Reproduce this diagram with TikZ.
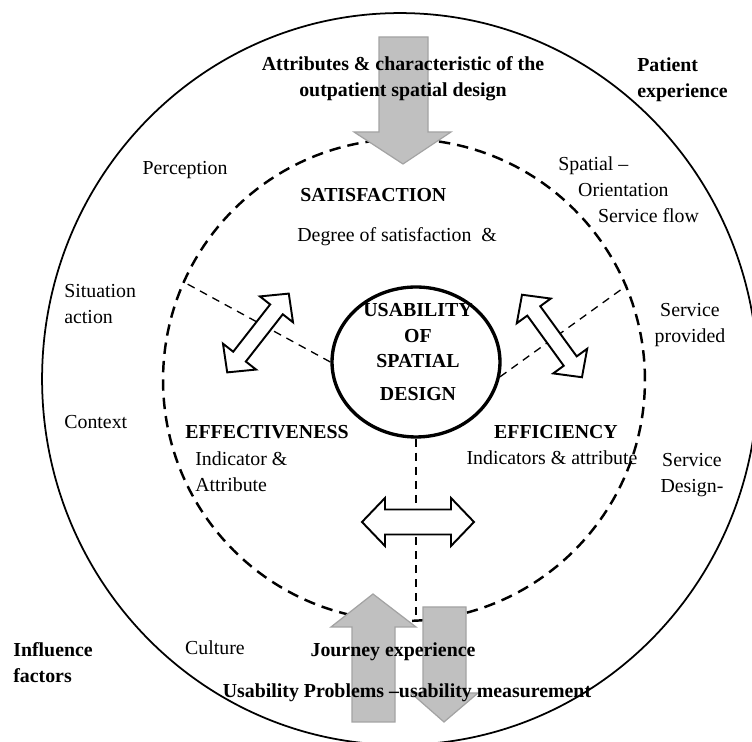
\documentclass[tikz,border=0pt]{standalone}
\usepackage{fontspec}
\setmainfont{Liberation Serif}
\usetikzlibrary{shapes.geometric}
\definecolor{arrowfill}{HTML}{C0C0C0}
\definecolor{arrowedge}{HTML}{A3A3A3}
\begin{document}
\begin{tikzpicture}[x=0.02cm,y=-0.02cm,
  lbl/.style={inner sep=0pt,font=\fontsize{11.3}{14.7}\selectfont},
  lblb/.style={inner sep=0pt,font=\fontsize{11.3}{14.7}\selectfont\bfseries},
  rim/.style={draw,ellipse,line width=1pt,minimum width=14.32cm,minimum height=14.64cm,inner sep=0pt},
  ring/.style={draw,circle,line width=1.4pt,dash pattern=on 6.5pt off 4pt,minimum size=9.64cm,inner sep=0pt},
  hub/.style={draw,ellipse,line width=1.9pt,minimum width=3.36cm,minimum height=3cm,inner sep=0pt},
  spoke/.style={line width=0.75pt,dash pattern=on 4.5pt off 3.5pt},
  twowayline/.style={draw,fill=white,line width=1.1pt,line join=miter},
  bigarrow/.style={draw=arrowedge,fill=arrowfill,line width=0.7pt},
  pics/twoway/.style n args={4}{code={
    \path[twowayline] (-#1,0) -- (-#1+#2,-#3) -- (-#1+#2,-#4) -- (#1-#2,-#4) -- (#1-#2,-#3) -- (#1,0)
      -- (#1-#2,#3) -- (#1-#2,#4) -- (-#1+#2,#4) -- (-#1+#2,#3) -- cycle;}}]
\useasboundingbox (0,0) rectangle (752,742);
\clip (0,0) rectangle (752,742);
% rings
\node[rim] (rim) at (400,379) {};
\node[ring] (ring) at (404,380) {};
\node[hub] (hub) at (416,362) {};
\draw[spoke] (hub.west) -- (ring.156);
\draw[spoke] (hub.-10) -- (ring.23);
\draw[spoke] (hub.south) -- (hub.south |- ring.south);
% two-way arrows
\pic[rotate=52] at (258,333) {twoway={50}{20}{21}{8}};
\pic[rotate=-54] at (552,336) {twoway={51}{20}{21}{8}};
\pic at (418,522) {twoway={56}{23}{24}{12.5}};
% grey arrows
\draw[bigarrow] (379,37) -- (428,37) -- (428,132) -- (451,132) -- (403,164) -- (354,132) -- (379,132) -- cycle;
\draw[bigarrow] (352,722) -- (352,627) -- (331,627) -- (373,594) -- (416,627) -- (395,627) -- (395,722) -- cycle;
\draw[bigarrow] (423,607) -- (466,607) -- (466,693) -- (478,693) -- (444,722) -- (411,693) -- (423,693) -- cycle;
% texts
\node[lblb,align=center] (hubtext) at (418,352) {USABILITY\\OF\\SPATIAL\\[4pt]DESIGN};
\node[lblb,align=center] (attr) at (403,79) {Attributes \& characteristic of the\\outpatient spatial design};
\node[lblb,align=left,anchor=west] (patient) at (637,80) {Patient\\experience};
\node[lbl] (perc) at (185,170) {Perception};
\node[lblb,anchor=west] (satis) at (300,195) {SATISFACTION};
\node[lbl,anchor=west] (degree) at (297,237) {Degree of satisfaction\ \ \&};
\node[lbl,align=left,anchor=west] (spatial) at (558,190) {Spatial –\\\hspace*{11.3pt}Orientation\\\hspace*{22.6pt}Service flow};
\node[lbl,align=left,anchor=west] (situ) at (64,304) {Situation\\action};
\node[lbl,align=center] (provided) at (690,325) {Service\\provided};
\node[lbl,anchor=west] (context) at (64,422) {Context};
\node[lblb,anchor=west] (effect) at (185,432) {EFFECTIVENESS};
\node[lbl,align=left,anchor=west] (indic) at (195,472) {Indicator \&\\Attribute};
\node[lblb] (effic) at (556,432) {EFFICIENCY};
\node[lbl] (indics) at (552,458) {Indicators \& attribute};
\node[lbl,align=center] (sdesign) at (692,475) {Service\\Design-};
\node[lblb,align=left,anchor=west] (influence) at (13,663) {Influence\\factors};
\node[lbl] (culture) at (215,648) {Culture};
\node[lblb] (journey) at (393,652) {Journey experience};
\node[lblb] (problems) at (407,693) {Usability Problems –usability measurement};
\end{tikzpicture}
\end{document}
